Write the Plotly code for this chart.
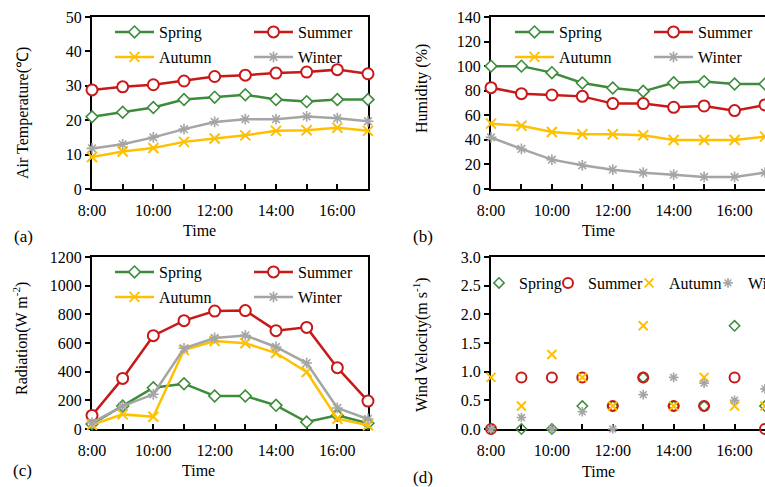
import plotly.graph_objects as go

# ---------------- data ----------------
hours = [8, 9, 10, 11, 12, 13, 14, 15, 16, 17]
tick_vals = [8, 10, 12, 14, 16]
tick_text = ["8:00", "10:00", "12:00", "14:00", "16:00"]
seasons = ["Spring", "Summer", "Autumn", "Winter"]

temp_spring = [21.0, 22.3, 23.7, 26.0, 26.7, 27.4, 26.0, 25.4, 26.0, 26.0]
temp_summer = [28.8, 29.7, 30.3, 31.4, 32.7, 33.1, 33.7, 34.0, 34.7, 33.5]
temp_autumn = [9.3, 10.9, 11.9, 13.7, 14.7, 15.6, 16.9, 17.1, 17.8, 16.9]
temp_winter = [11.8, 13.0, 15.0, 17.4, 19.5, 20.3, 20.3, 21.1, 20.6, 19.7]

hum_spring = [100, 100, 94.7, 86.3, 82.2, 79.5, 86.5, 87.4, 85.5, 85.5]
hum_summer = [82.5, 77.6, 76.5, 75.4, 69.5, 69.5, 66.5, 67.6, 63.8, 68.4]
hum_autumn = [53.2, 51.5, 46.4, 44.5, 44.5, 43.7, 39.9, 39.9, 39.9, 42.6]
hum_winter = [42.0, 32.6, 23.9, 19.3, 15.7, 13.3, 11.7, 9.8, 9.8, 13.3]

rad_spring = [35, 160, 288, 316, 230, 230, 165, 49, 95, 40]
rad_summer = [95, 353, 651, 756, 823, 826, 686, 709, 428, 195]
rad_autumn = [30, 102, 86, 551, 614, 598, 530, 398, 72, 26]
rad_winter = [44, 160, 242, 563, 635, 653, 572, 460, 147, 70]

wind_spring = [0, 0, 0, 0.4, 0.4, 0.9, 0.4, 0.4, 1.8, 0.4]
wind_summer = [0, 0.9, 0.9, 0.9, 0.4, 0.9, 0.4, 0.4, 0.9, 0]
wind_autumn = [0.9, 0.4, 1.3, 0.9, 0.4, 1.8, 0.4, 0.9, 0.4, 0.4]
wind_winter = [0, 0.2, 0, 0.3, 0, 0.6, 0.9, 0.8, 0.5, 0.7]

y_titles = ["Air Temperature(℃)", "Humidity (%)", "Radiation(W m<sup>-2</sup>)",
            "Wind Velocity(m s<sup>-1</sup>)"]
panel_labels = ["(a)", "(b)", "(c)", "(d)"]

# ---------------- style ----------------
W, H = 765, 487
FONT = "Liberation Serif, Times New Roman, serif"
COLORS = {"Spring": "#3C8C3C", "Summer": "#C81818", "Autumn": "#FFC000", "Winter": "#A5A5A5"}


def px_x(p):
    return p / W


def px_y(p):
    return 1 - p / H


# plot area pixel boxes (left, top, right, bottom)
boxes = {
    1: (92, 17, 368, 189),
    2: (491, 17, 765, 189),
    3: (92, 257, 368, 429),
    4: (491, 257, 765, 429),
}
yranges = {1: [0, 50], 2: [0, 140], 3: [0, 1200], 4: [0, 3]}
ydticks = {1: 10, 2: 20, 3: 200, 4: 0.5}

fig = go.Figure()

line_sets = {
    1: [temp_spring, temp_summer, temp_autumn, temp_winter],
    2: [hum_spring, hum_summer, hum_autumn, hum_winter],
    3: [rad_spring, rad_summer, rad_autumn, rad_winter],
}


def line_marker(season):
    c = COLORS[season]
    if season == "Spring":
        return dict(symbol="diamond", size=9, color="white", line=dict(color=c, width=1.6))
    if season == "Summer":
        return dict(symbol="circle", size=11, color="white", line=dict(color=c, width=2))
    if season == "Autumn":
        return dict(symbol="x-thin-open", size=10, color=c, line=dict(color=c, width=2))
    return dict(symbol="asterisk-open", size=9, color=c, line=dict(color=c, width=1.6))


for k in (1, 2, 3):
    xa = "x" if k == 1 else f"x{k}"
    ya = "y" if k == 1 else f"y{k}"
    for i, s in enumerate(seasons):
        row = 1 if i < 2 else 2
        idx = (k - 1) * 2 + row
        lg_name = "legend" if idx == 1 else f"legend{idx}"
        extra = dict(legendwidth=85) if i % 2 == 0 else {}
        fig.add_trace(go.Scatter(
            x=hours, y=line_sets[k][i], name=s, mode="lines+markers",
            line=dict(color=COLORS[s], width=2.5), marker=line_marker(s),
            xaxis=xa, yaxis=ya, legend=lg_name, cliponaxis=False, **extra,
        ))


def wind_marker(season):
    c = COLORS[season]
    if season == "Spring":
        return dict(symbol="diamond-open", size=8, color=c, line=dict(color=c, width=1.5))
    if season == "Summer":
        return dict(symbol="circle-open", size=10, color=c, line=dict(color=c, width=2))
    if season == "Autumn":
        return dict(symbol="x-thin-open", size=9, color=c, line=dict(color=c, width=2))
    return dict(symbol="asterisk-open", size=8, color=c, line=dict(color=c, width=1.6))


wind_data = [wind_spring, wind_summer, wind_autumn, wind_winter]
wind_legend_w = [24, 36, 34, None]
for i, s in enumerate(seasons):
    extra = dict(legendwidth=wind_legend_w[i]) if wind_legend_w[i] else {}
    fig.add_trace(go.Scatter(
        x=hours, y=wind_data[i], name=s, mode="markers", marker=wind_marker(s),
        xaxis="x4", yaxis="y4", legend="legend7", cliponaxis=False, **extra,
    ))

layout = dict(
    width=W, height=H, margin=dict(l=0, r=0, t=0, b=0, autoexpand=False),
    paper_bgcolor="white", plot_bgcolor="white",
    font=dict(family=FONT, size=16, color="black"),
    showlegend=True,
)

for k, (l, t, r, b) in boxes.items():
    xs = "xaxis" if k == 1 else f"xaxis{k}"
    ys = "yaxis" if k == 1 else f"yaxis{k}"
    ya = "y" if k == 1 else f"y{k}"
    xa = "x" if k == 1 else f"x{k}"
    right_cut = k in (2, 4)
    layout[xs] = dict(
        domain=[px_x(l), px_x(r)], range=[8, 17], anchor=ya,
        tickmode="array", tickvals=tick_vals, ticktext=tick_text,
        ticks="inside", ticklen=5, tickwidth=1.5, tickcolor="black",
        minor=dict(ticks="inside", tick0=8, dtick=1, ticklen=5, tickwidth=1.5, tickcolor="black"),
        showline=True, linecolor="black", linewidth=2, mirror=True,
        showgrid=False, zeroline=False, layer="below traces",
        tickfont=dict(size=16), ticklabelstandoff=6,
    )
    layout[ys] = dict(
        domain=[px_y(b), px_y(t)], range=yranges[k], anchor=xa,
        dtick=ydticks[k], tick0=0,
        ticks="outside", ticklen=5, tickwidth=1.5, tickcolor="black",
        showline=True, linecolor="black", linewidth=2, mirror=not right_cut,
        showgrid=False, zeroline=False, layer="below traces",
        tickfont=dict(size=16), tickformat=".1f" if k == 4 else None,
    )

# legends: two rows for panels a, b, c; one row for d
legend_rows = {
    1: (110, 32), 2: (110, 57),
    3: (510, 32), 4: (510, 57),
    5: (110, 272), 6: (110, 297),
}
for n, (lx, ly) in legend_rows.items():
    key = "legend" if n == 1 else f"legend{n}"
    layout[key] = dict(
        x=px_x(lx), y=px_y(ly), xanchor="left", yanchor="middle",
        orientation="h", bgcolor="rgba(0,0,0,0)", borderwidth=0,
        font=dict(family=FONT, size=16, color="black"),
        itemwidth=39, itemclick=False, itemdoubleclick=False,
    )
layout["legend7"] = dict(
    x=px_x(479), y=px_y(283), xanchor="left", yanchor="middle",
    orientation="h", bgcolor="rgba(0,0,0,0)", borderwidth=0,
    font=dict(family=FONT, size=16, color="black"),
    itemwidth=30, itemclick=False, itemdoubleclick=False,
)

annotations = []
# x-axis titles
for (cx, cy) in [(199, 230), (598, 230), (198, 470), (598, 471)]:
    annotations.append(dict(text="Time", x=px_x(cx), y=px_y(cy), xref="paper", yref="paper",
                            showarrow=False, xanchor="center", yanchor="middle",
                            font=dict(size=16)))
# y-axis titles
for title, (cx, cy) in zip(y_titles, [(23, 113), (422, 89), (20, 339), (420, 345)]):
    annotations.append(dict(text=title, x=px_x(cx), y=px_y(cy), xref="paper", yref="paper",
                            showarrow=False, xanchor="center", yanchor="middle",
                            textangle=-90, font=dict(size=16)))
# panel labels
for lab, (cx, cy) in zip(panel_labels, [(23, 236), (423, 236), (22, 470), (423, 477)]):
    annotations.append(dict(text=lab, x=px_x(cx), y=px_y(cy), xref="paper", yref="paper",
                            showarrow=False, xanchor="center", yanchor="middle",
                            font=dict(size=17)))
layout["annotations"] = annotations

fig.update_layout(**layout)
fig.write_html("out.html")
